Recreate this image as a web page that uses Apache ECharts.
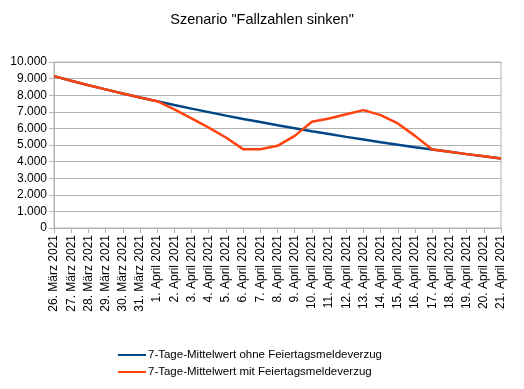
<!DOCTYPE html>
<html><head><meta charset="utf-8">
<script src="https://cdn.jsdelivr.net/npm/echarts@6/dist/echarts.min.js"></script>
<style>html,body{margin:0;padding:0;background:#fff}#c{width:524px;height:389px}</style>
</head><body><div id="c"></div>
<script>
const categories = ["26. März 2021","27. März 2021","28. März 2021","29. März 2021","30. März 2021","31. März 2021",
"1. April 2021","2. April 2021","3. April 2021","4. April 2021","5. April 2021","6. April 2021","7. April 2021",
"8. April 2021","9. April 2021","10. April 2021","11. April 2021","12. April 2021","13. April 2021","14. April 2021",
"15. April 2021","16. April 2021","17. April 2021","18. April 2021","19. April 2021","20. April 2021","21. April 2021"];
const ohneVerzug = [9150,8870,8600,8350,8100,7860,7640,7410,7190,6980,6770,6570,6380,6190,6010,5830,5660,5490,5330,5170,5020,4870,4730,4590,4450,4320,4190];
const mitVerzug  = [9150,8870,8600,8350,8100,7860,7640,7150,6600,6050,5450,4750,4750,4950,5550,6400,6600,6850,7100,6800,6300,5550,4730,4590,4450,4320,4190];
const seriesNames = ["7-Tage-Mittelwert ohne Feiertagsmeldeverzug","7-Tage-Mittelwert mit Feiertagsmeldeverzug"];
const titleText = 'Szenario "Fallzahlen sinken"';

const chart = echarts.init(document.getElementById('c'));
const font = 'Liberation Sans, Arial, sans-serif';
chart.setOption({
  animation:false,
  title:{text:titleText,left:'center',top:7,textStyle:{fontFamily:font,fontSize:14.5,fontWeight:'normal',color:'#000'}},
  grid:{left:54,right:23,top:62,bottom:161,show:true,borderColor:'#b3b3b3',borderWidth:1},
  legend:{orient:'vertical',left:113,top:344,itemWidth:28,itemHeight:2,itemGap:5,icon:'rect',
    textStyle:{fontFamily:font,fontSize:11.5,color:'#000',padding:[0,0,0,-3]},data:seriesNames},
  xAxis:{type:'category',data:categories,boundaryGap:false,
    axisLine:{lineStyle:{color:'#b3b3b3'}},
    axisTick:{show:true,length:5,inside:false,lineStyle:{color:'#b3b3b3'}},
    axisLabel:{rotate:90,interval:0,margin:7,fontFamily:font,fontSize:12,color:'#000'},
    splitLine:{show:false}},
  yAxis:{type:'value',min:0,max:10000,interval:1000,
    axisLine:{show:true,lineStyle:{color:'#b3b3b3'}},
    axisTick:{show:true,length:5,lineStyle:{color:'#b3b3b3'}},
    axisLabel:{margin:7,fontFamily:font,fontSize:12,color:'#000',
      formatter:v=>String(v).replace(/\B(?=(\d{3})+(?!\d))/g,'.')},
    splitLine:{show:true,lineStyle:{color:'#b3b3b3',width:1}}},
  series:[
    {name:seriesNames[0],type:'line',data:ohneVerzug,symbol:'none',color:'#004586',lineStyle:{width:2.5,color:'#004586'},z:2},
    {name:seriesNames[1],type:'line',data:mitVerzug,symbol:'none',color:'#ff420e',lineStyle:{width:2.5,color:'#ff420e'},z:3}
  ]
});
</script></body></html>
